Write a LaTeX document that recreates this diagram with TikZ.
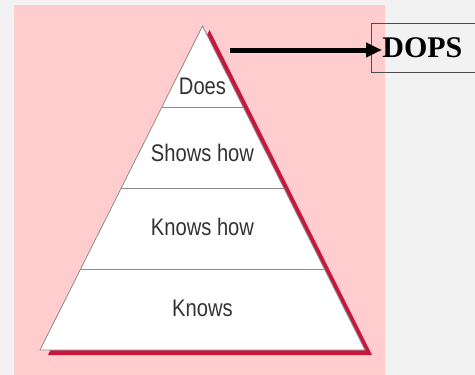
\documentclass[tikz,border=0pt]{standalone}
\usepackage{fontspec}
\setmainfont{Liberation Serif}
\setsansfont{Liberation Sans}
\usepackage{tikz}
\usetikzlibrary{arrows.meta,positioning,calc}
\definecolor{pagegrey}{HTML}{F2F2F2}
\definecolor{slidepink}{HTML}{FFCDCD}
\definecolor{shadowred}{HTML}{C8173F}
\definecolor{levelgrey}{HTML}{8C8C8C}
\definecolor{labelgrey}{HTML}{333333}
\tikzset{
  levellabel/.style={
    font=\sffamily\fontsize{24}{26}\selectfont,
    text=labelgrey,
    xscale=0.84,
    transform shape,
    inner sep=0pt
  },
  levelline/.style={draw=levelgrey, line width=0.9pt},
  dopsbox/.style={
    draw=black!70,
    line width=0.8pt,
    font=\bfseries\fontsize{30}{32}\selectfont,
    anchor=west,
    minimum height=49pt,
    inner sep=0pt,
    text width=130pt
  },
  pointer/.style={-{Triangle[length=16pt,width=14pt]}, line width=5pt}
}

\begin{document}
\begin{tikzpicture}[x=1pt,y=-1pt]
\clip (0,0) rectangle (475,375);
\fill[pagegrey] (0,0) rectangle (475,375);
\fill[slidepink] (14,5) rectangle (385,375);

% pyramid corners
\coordinate (apex) at (202.5,26);
\coordinate (bl) at (40,350);
\coordinate (br) at (365,350);

% shadow and body
\fill[shadowred] ([shift={(7,4)}]apex) -- ([shift={(7,5)}]br) -- ([shift={(8,5)}]bl) -- cycle;
\filldraw[fill=white, draw=levelgrey, line width=0.8pt] (apex) -- (br) -- (bl) -- cycle;

% level separators
\foreach \t in {0.25,0.5,0.75}
  \draw[levelline] ($(apex)!\t!(bl)$) -- ($(apex)!\t!(br)$);

\node[levellabel] (does) at (202.5,86) {Does};
\node[levellabel] (shows) at (202.5,153) {Shows how};
\node[levellabel] (knowshow) at (202.5,227) {Knows how};
\node[levellabel] (knows) at (202.5,308) {Knows};

% DOPS
\node[dopsbox] (dops) at (371,47.5) {\hspace*{11pt}DOPS};
\coordinate (tail) at (230,50);
\draw[pointer] (tail) -- ([xshift=11pt,yshift=-2.5pt]dops.west);
\end{tikzpicture}
\end{document}
